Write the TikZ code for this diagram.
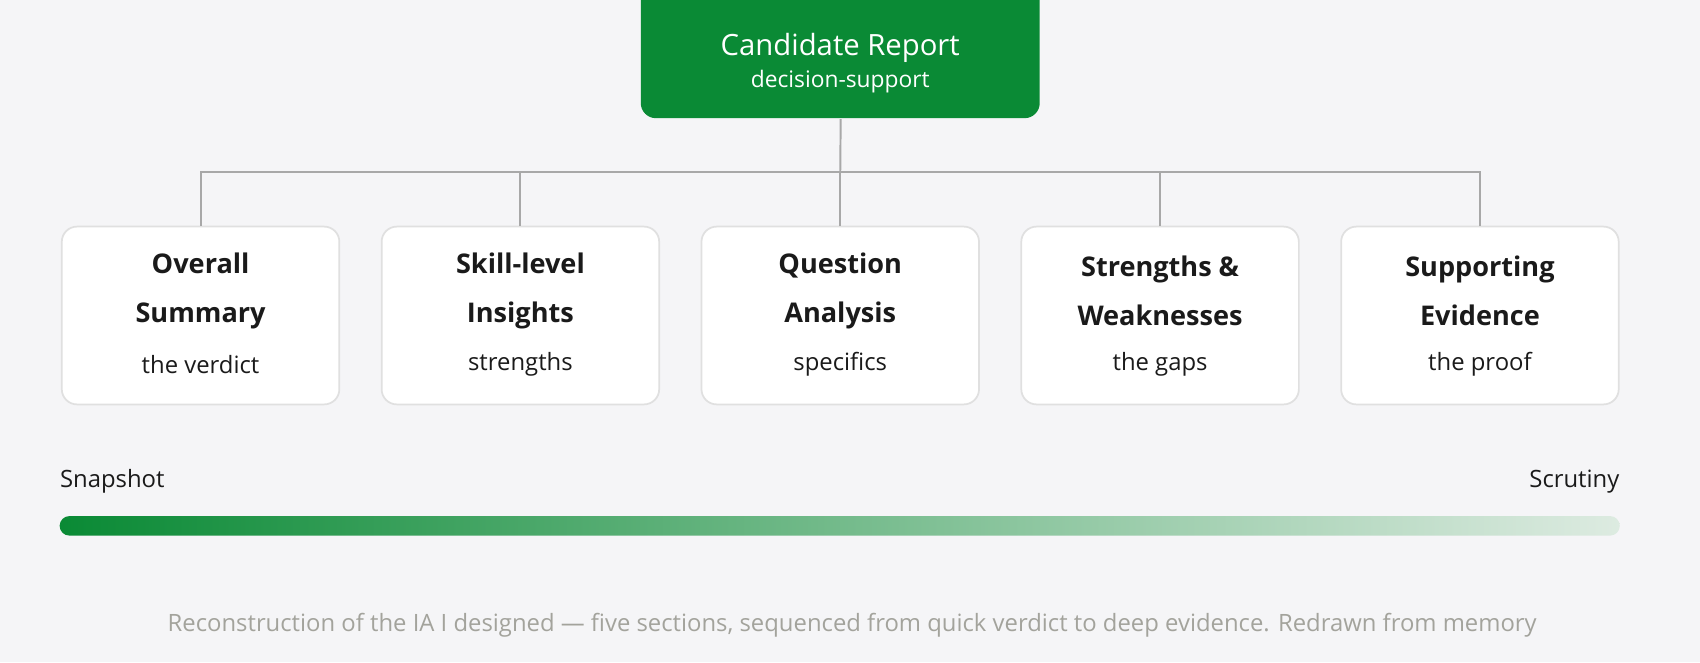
\documentclass[tikz,border=0pt]{standalone}
\usepackage{fontspec}
\setmainfont{Open Sans}
\begin{document}
\definecolor{bg}{HTML}{F5F5F7}
\definecolor{grn}{HTML}{0A8A35}
\definecolor{pale}{HTML}{DDEBE1}
\definecolor{edge}{HTML}{E0E0E0}
\definecolor{ln}{HTML}{A8A8A8}
\definecolor{txt}{HTML}{1A1A1A}
\definecolor{cap}{HTML}{A3A39C}
\begin{tikzpicture}[x=0.5pt,y=-0.5pt,
  card/.style={draw=edge,line width=0.8pt,fill=white,rounded corners=7pt,minimum width=128pt,minimum height=82pt,inner sep=0pt},
  conn/.style={draw=ln,line width=0.9pt},
  ttl/.style={font=\fontsize{12.5}{22.5}\selectfont\bfseries,text=txt,align=center},
  sub/.style={font=\fontsize{11}{13}\selectfont,text=txt}]
\fill[bg] (0,0) rectangle (1568,611);
\useasboundingbox (0,0) rectangle (1568,611);
\fill[grn,rounded corners=7pt] (591,-20) rectangle (959,109);
\node[inner sep=0pt,minimum width=184pt,minimum height=54.5pt,anchor=north west] (top) at (591,0) {};
\node[text=white,font=\fontsize{13.5}{16}\selectfont] (t1) at (775,44) {Candidate Report};
\node[text=white,font=\fontsize{10.5}{12}\selectfont] (t2) at (775,75) {decision-support};
\foreach \n/\x/\a/\b/\s in {c1/185/Overall/Summary/the verdict,
  c2/480/Skill-level/Insights/strengths,
  c3/775/Question/Analysis/specifics,
  c4/1070/Strengths \&/Weaknesses/the gaps,
  c5/1365/Supporting/Evidence/the proof}{
  \node[card] (\n) at (\x,291) {};
  \node[ttl] at (\x,268) {\a\\\b};
  \node[sub] at (\x,336) {\s};
}
\coordinate (hb) at (775,159);
\draw[conn] (top.south) -- (hb);
\draw[conn] (c1.north) |- (hb) -| (c5.north);
\draw[conn] (c2.north) -- (c2.north |- hb);
\draw[conn] (c3.north) -- (hb);
\draw[conn] (c4.north) -- (c4.north |- hb);
\node[sub,anchor=west,inner sep=0pt] (snap) at (55,444) {Snapshot};
\node[sub,anchor=east,inner sep=0pt] (scr) at (1494,444) {Scrutiny};
\shade[left color=grn,right color=pale,rounded corners=4.5pt] (55,476) rectangle (1494,494);
\node[text=cap,font=\fontsize{11}{13}\selectfont] (cp) at (786,577) {Reconstruction of the IA I designed — five sections, sequenced from quick verdict to deep evidence. Redrawn from memory};
\end{tikzpicture}
\end{document}
